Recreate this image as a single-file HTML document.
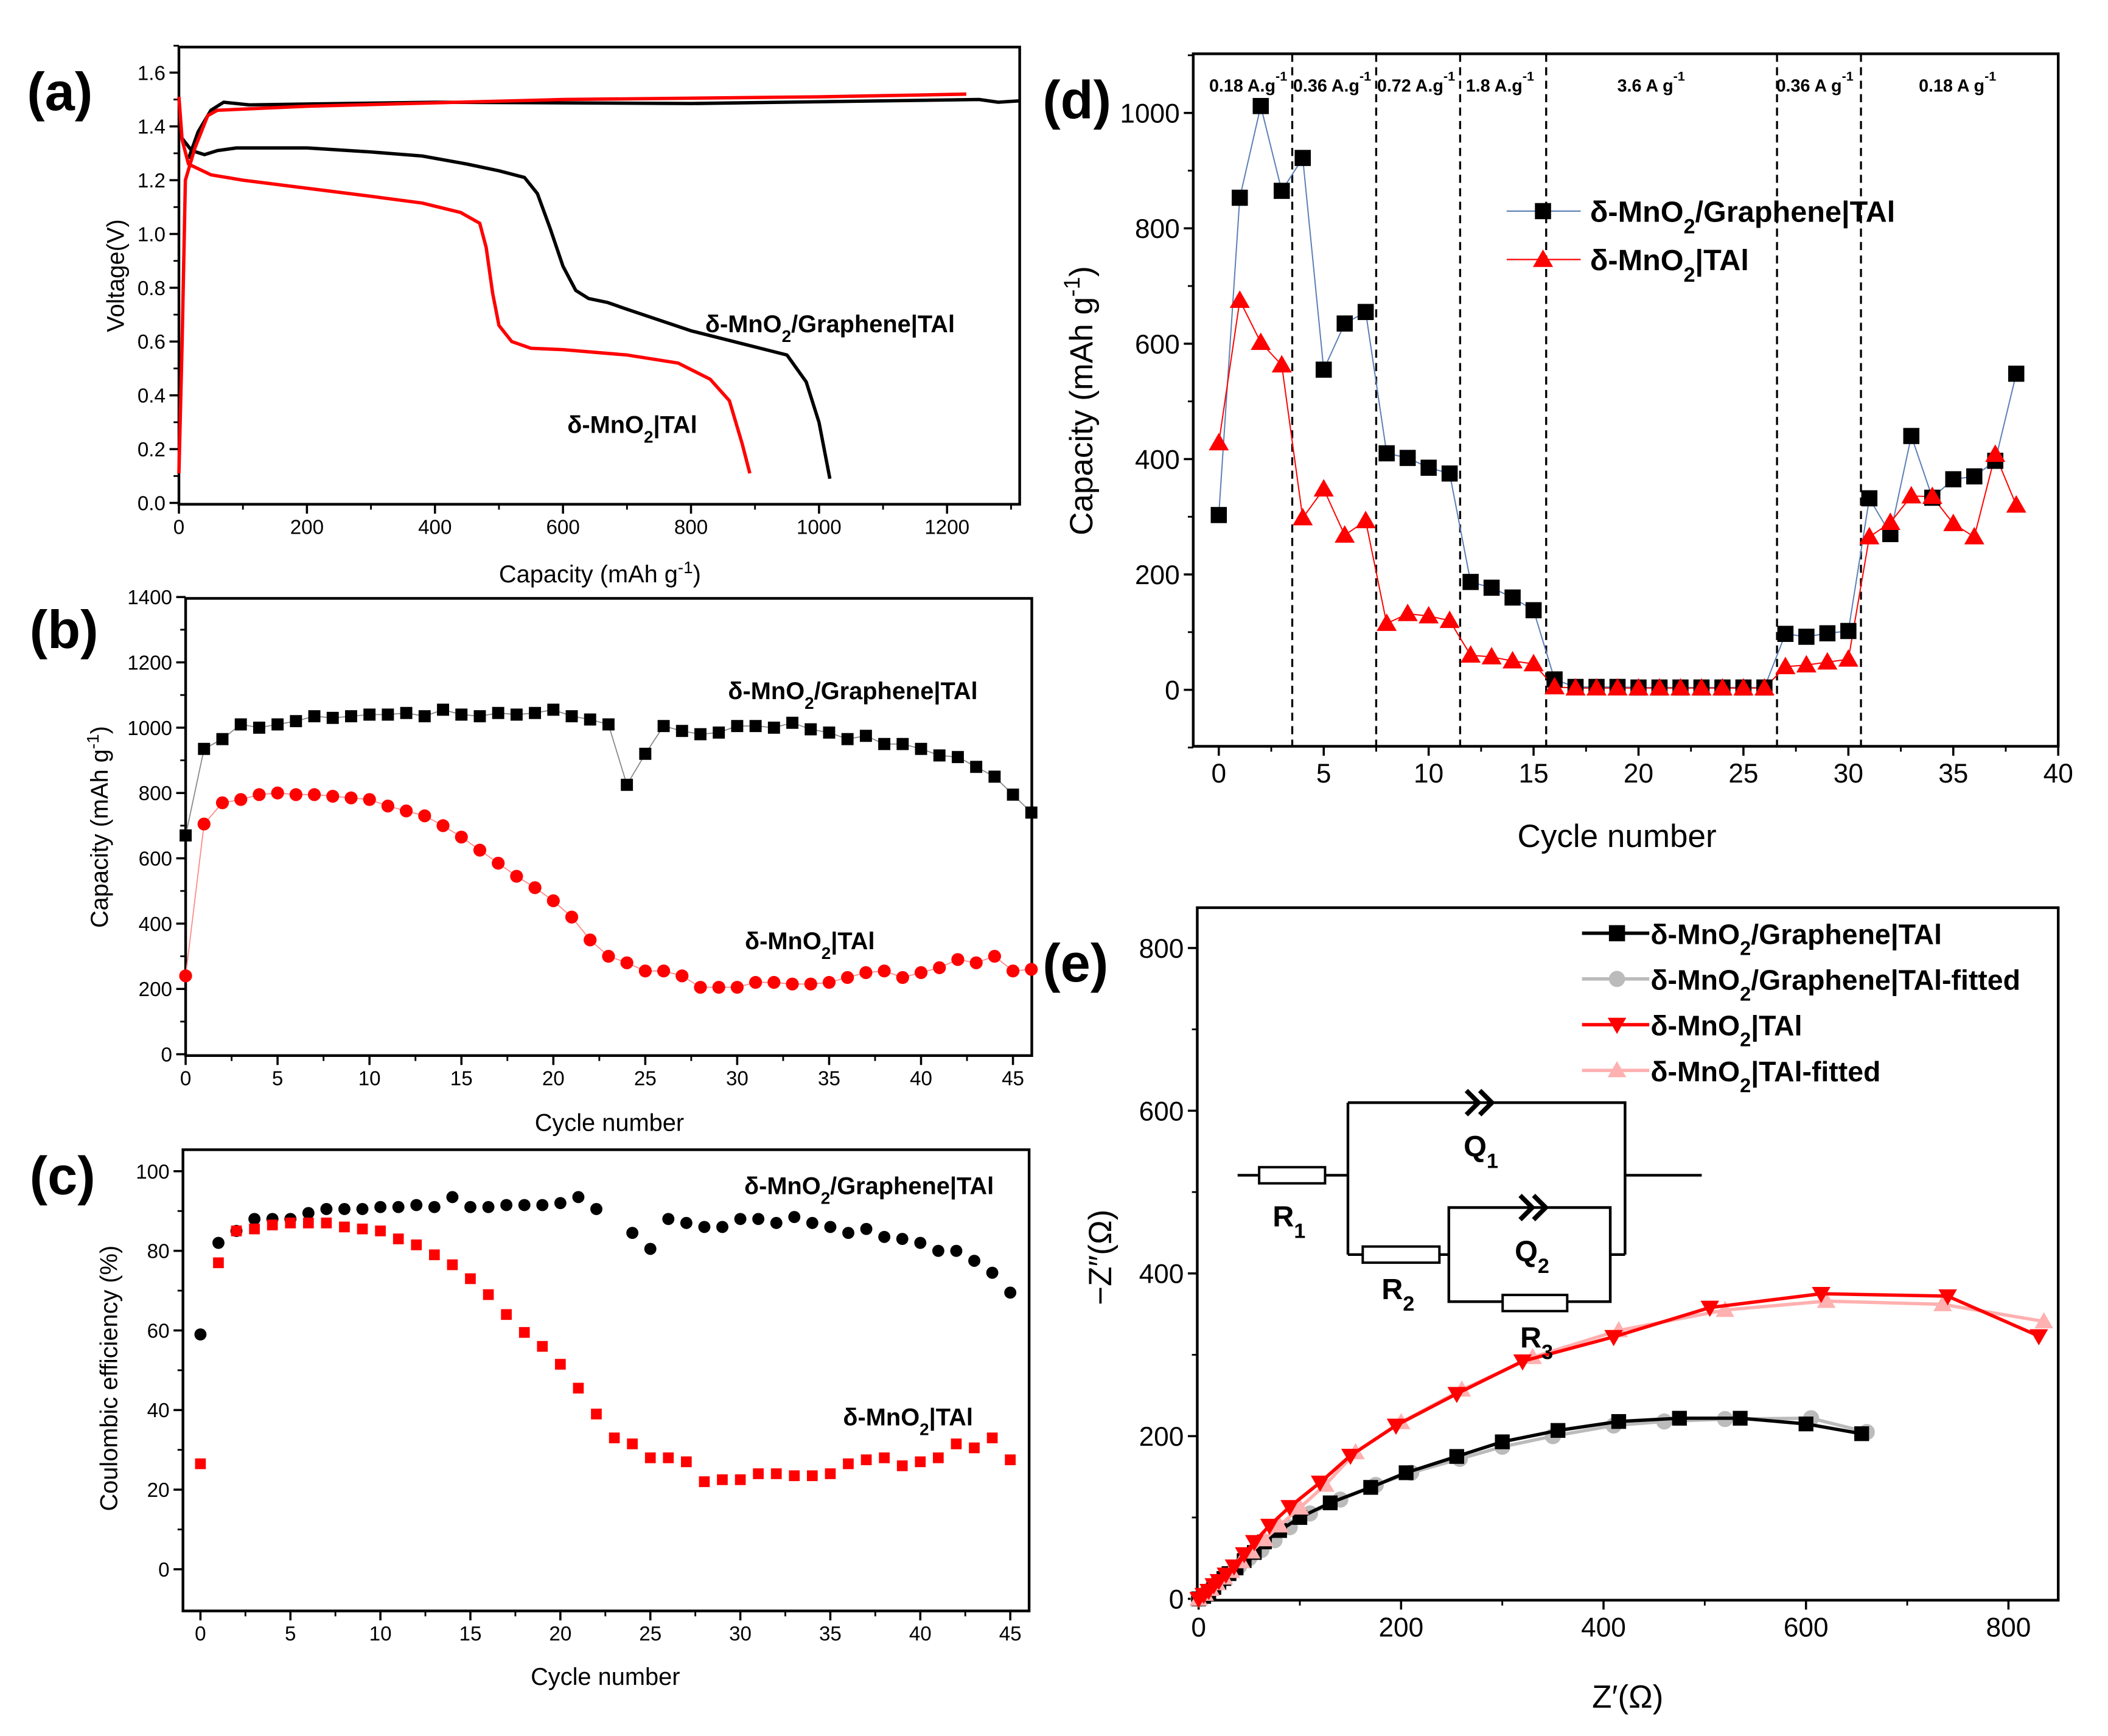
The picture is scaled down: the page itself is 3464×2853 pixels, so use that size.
<!DOCTYPE html>
<html><head><meta charset="utf-8">
<style>
html,body{margin:0;padding:0;background:#fff;}
svg{display:block;}
text{font-family:"Liberation Sans",sans-serif;}
.n{font-family:"Liberation Sans Narrow","Liberation Sans",sans-serif;}
</style></head>
<body>
<svg id="fig" xmlns="http://www.w3.org/2000/svg" width="3464" height="2853" viewBox="0 0 1567 1291" preserveAspectRatio="none">
<rect x="0" y="0" width="1567" height="1291" fill="#fff"/>
</svg>
<script>
// ---------- data ----------
const aBlackDisCap=[0,20,40,60,90,200,300,380,450,500,540,560,580,600,620,640,670,700,800,900,950,980,1000,1017];
const aBlackDisV=[1.37,1.31,1.295,1.31,1.32,1.32,1.305,1.29,1.26,1.235,1.21,1.15,1.02,0.88,0.79,0.76,0.745,0.72,0.64,0.58,0.55,0.45,0.30,0.09];
const aBlackChCap=[15,30,50,70,110,400,800,1100,1250,1280,1313];
const aBlackChV=[1.28,1.38,1.46,1.49,1.48,1.49,1.485,1.495,1.5,1.49,1.495];
const aRedDisCap=[0,5,15,50,100,200,300,380,440,470,480,490,500,520,550,600,700,780,830,860,880,892];
const aRedDisV=[1.51,1.35,1.26,1.22,1.20,1.17,1.14,1.115,1.08,1.04,0.95,0.78,0.66,0.60,0.575,0.57,0.55,0.52,0.46,0.38,0.22,0.11];
const aRedChCap=[0,5,10,25,45,60,200,600,1000,1230];
const aRedChV=[0.11,0.6,1.2,1.32,1.44,1.46,1.475,1.5,1.51,1.52];

const bBlack=[670,935,965,1010,1000,1010,1020,1035,1030,1035,1040,1040,1045,1035,1055,1040,1035,1045,1040,1045,1055,1035,1025,1010,825,920,1005,990,980,985,1005,1005,1000,1015,995,985,965,975,950,950,935,915,910,880,850,795,740];
const bRed=[240,705,770,780,795,800,795,795,790,785,780,760,745,730,700,665,625,585,545,510,470,420,350,300,280,255,255,240,205,205,205,220,220,215,215,220,235,250,255,235,250,265,290,280,300,255,260];

const cBlack=[59,82,85,88,88,88,89.5,90.5,90.5,90.5,91,91,91.5,91,93.5,91,91,91.5,91.5,91.5,92,93.5,90.5,null,84.5,80.5,88,87,86,86,88,88,87,88.5,87,86,84.5,85.5,83.5,83,82,80,80,77.5,74.5,69.5];
const cRed=[26.5,77,85,85.5,86.5,87,87,87,86,85.5,85,83,81.5,79,76.5,73,69,64,59.5,56,51.5,45.5,39,33,31.5,28,28,27,22,22.5,22.5,24,24,23.5,23.5,24,26.5,27.5,28,26,27,28,31.5,30.5,33,27.5];

const dBlack=[303,853,1012,865,922,555,635,655,410,402,385,375,187,177,160,138,18,5,5,5,4,4,4,4,4,4,4,97,92,98,102,332,270,440,333,365,370,397,548];
const dRed=[428,675,602,563,298,348,268,293,115,132,128,120,60,57,50,45,5,3,3,3,3,3,3,3,3,3,3,40,43,48,53,265,290,336,335,288,265,408,320];
const dDividers=[3.5,7.5,11.5,15.6,26.6,30.6];
const dRateLabels=["0.18 A.g","0.36 A.g","0.72 A.g","1.8 A.g","3.6 A g","0.36 A g","0.18 A g"];
const dRateX=[1.4,5.4,9.4,13.4,20.6,28.4,35.2];

const eBlackRe=[0,5,10,15,20,25,30,37,45,55,65,80,100,130,170,205,255,300,355,415,475,535,600,655];
const eBlackIm=[0,3,8,14,20,25,31,38,47,57,70,84,100,118,137,155,175,193,207,218,222,222,215,203];
const eGrayRe=[0,6,12,18,25,32,40,50,62,75,90,110,140,175,210,258,300,350,410,460,520,605,660];
const eGrayIm=[0,6,12,18,25,32,40,50,60,72,88,105,122,140,155,172,187,200,213,218,221,222,205];
const eRedRe=[0,5,10,15,20,27,35,45,55,70,90,120,150,195,255,320,410,505,615,740,830];
const eRedIm=[0,5,10,17,22,30,40,55,70,90,113,143,176,213,252,292,322,358,375,372,323];
const ePinkRe=[0,6,12,18,25,32,42,52,65,80,100,125,155,200,260,330,415,520,620,735,835];
const ePinkIm=[0,6,12,19,26,34,46,58,73,90,112,140,180,217,257,297,330,355,366,362,341];

// ---------- helpers ----------
const NS="http://www.w3.org/2000/svg";
const fig=document.getElementById('fig');
function el(tag,attrs,parent){const e=document.createElementNS(NS,tag);for(const k in attrs)e.setAttribute(k,attrs[k]);(parent||fig).appendChild(e);return e;}
function txt(s,x,y,size,opt,parent){opt=opt||{};const t=el('text',{x:x,y:y,'font-size':size,'text-anchor':opt.anchor||'middle',fill:opt.fill||'#000','font-weight':opt.bold?'bold':'normal'},parent);if(opt.cls)t.setAttribute('class',opt.cls);if(opt.rot)t.setAttribute('transform','rotate(-90 '+x+' '+y+')');t.innerHTML=s;return t;}
function lin(x0,x1,p0,p1){return v=>p0+(v-x0)*(p1-p0)/(x1-x0);}
function group(name){const g=el('g',{});return g;}
function axes(g,box,sx,sy,xt,xm,yt,ym,fs,cls,yfmt){
  const r=el('rect',{x:box[0],y:box[1],width:box[2]-box[0],height:box[3]-box[1],fill:'none',stroke:'#000','stroke-width':2},g);
  
  xt.forEach(v=>{const x=sx(v);el('line',{x1:x,x2:x,y1:box[3],y2:box[3]+7,stroke:'#000','stroke-width':1.6},g);
    const t=txt(String(v),x,box[3]+7+fs,fs,{cls:cls},g);});
  xm.forEach(v=>{const x=sx(v);el('line',{x1:x,x2:x,y1:box[3],y2:box[3]+4,stroke:'#000','stroke-width':1.3},g);});
  yt.forEach(v=>{const y=sy(v);el('line',{x1:box[0]-7,x2:box[0],y1:y,y2:y,stroke:'#000','stroke-width':1.6},g);
    const t=txt(yfmt?yfmt(v):String(v),box[0]-10,y+fs*0.36,fs,{anchor:'end',cls:cls},g);});
  ym.forEach(v=>{const y=sy(v);el('line',{x1:box[0]-4,x2:box[0],y1:y,y2:y,stroke:'#000','stroke-width':1.3},g);});
}
function range(a,b,s){const r=[];for(let v=a;v<=b+1e-9;v+=s)r.push(+v.toFixed(4));return r;}
function poly(g,xs,ys,sx,sy,color,w,name){let d='';xs.forEach((x,i)=>{if(ys[i]==null)return;d+=(d?'L':'M')+sx(x).toFixed(1)+','+sy(ys[i]).toFixed(1);});
  const p=el('path',{d:d,fill:'none',stroke:color,'stroke-width':w,'stroke-linejoin':'round'},g);return p;}
function marker(g,type,x,y,s,color,name){let m;
  if(type==='sq')m=el('rect',{x:x-s,y:y-s,width:2*s,height:2*s,fill:color},g);
  else if(type==='ci')m=el('circle',{cx:x,cy:y,r:s,fill:color},g);
  else if(type==='tu')m=el('polygon',{points:`${x},${y-s*1.15} ${x-s*1.15},${y+s*0.85} ${x+s*1.15},${y+s*0.85}`,fill:color},g);
  else m=el('polygon',{points:`${x},${y+s*1.15} ${x-s*1.15},${y-s*0.85} ${x+s*1.15},${y-s*0.85}`,fill:color},g);
  return m;}
const LG='δ-MnO<tspan baseline-shift="sub" font-size="70%">2</tspan>/Graphene|TAl';
const LR='δ-MnO<tspan baseline-shift="sub" font-size="70%">2</tspan>|TAl';

// ---------- panel (a) ----------
(function(){
  const g=group('panel-a');
  const box=[133,35,758,375];
  const sx=lin(0,1200,133,704), sy=lin(0,1.6,374,54);
  axes(g,box,sx,sy,range(0,1200,200),range(100,1300,200),range(0,1.6,0.2),range(0.1,1.7,0.2),15,'n',v=>v.toFixed(1));
  poly(g,aBlackChCap,aBlackChV,sx,sy,'#000',2.5,'black-charge-curve');
  poly(g,aBlackDisCap,aBlackDisV,sx,sy,'#000',2.5,'black-discharge-curve');
  poly(g,aRedChCap,aRedChV,sx,sy,'#f00',2.5,'red-charge-curve');
  poly(g,aRedDisCap,aRedDisV,sx,sy,'#f00',2.5,'red-discharge-curve');
  let t=txt('(a)',20,82,40,{anchor:'start',bold:true},g);
  t=txt('Voltage(V)',92,205,18,{rot:true},g);
  t=txt('Capacity (mAh g<tspan baseline-shift="super" font-size="70%">-1</tspan>)',446,433,18,{},g);
  t=txt(LG,617,247,18,{bold:true,cls:'n'},g);
  t=txt(LR,470,322,18,{bold:true,cls:'n'},g);
})();

// ---------- panel (b) ----------
(function(){
  const g=group('panel-b');
  const box=[138,445,767,785];
  const sx=lin(0,45,138,753), sy=lin(0,1400,784,444);
  axes(g,box,sx,sy,range(0,45,5),range(2.5,45,5),range(0,1400,200),range(100,1300,200),15,'n');
  const idx=bBlack.map((v,i)=>i);
  poly(g,idx,bBlack,sx,sy,'#888',0.8,'black-connector');
  poly(g,idx,bRed,sx,sy,'#f88',0.8,'red-connector');
  bBlack.forEach((v,i)=>{if(sx(i)<=767)marker(g,'sq',sx(i),sy(v),4.5,'#000','capacity-point-graphene');});
  bRed.forEach((v,i)=>{if(sx(i)<=767)marker(g,'ci',sx(i),sy(v),4.8,'#f00','capacity-point-mno2');});
  let t=txt('(b)',22,482,40,{anchor:'start',bold:true},g);
  t=txt('Capacity (mAh g<tspan baseline-shift="super" font-size="70%">-1</tspan>)',80,615,18,{rot:true},g);
  t=txt('Cycle number',453,841,18,{},g);
  t=txt(LG,634,520,18,{bold:true,cls:'n'},g);
  t=txt(LR,602,706,18,{bold:true,cls:'n'},g);
})();

// ---------- panel (c) ----------
(function(){
  const g=group('panel-c');
  const box=[136,855,765,1198];
  const sx=lin(0,45,149,751), sy=lin(0,100,1167,871);
  axes(g,box,sx,sy,range(0,45,5),range(2.5,45,5),range(0,100,20),range(10,100,20),15,'n');
  cBlack.forEach((v,i)=>{if(v!=null)marker(g,'ci',sx(i),sy(v),4.5,'#000','efficiency-point-graphene');});
  cRed.forEach((v,i)=>{marker(g,'sq',sx(i),sy(v),4,'#f00','efficiency-point-mno2');});
  let t=txt('(c)',22,888,40,{anchor:'start',bold:true},g);
  t=txt('Coulombic efficiency (%)',87,1025,18,{rot:true},g);
  t=txt('Cycle number',450,1253,18,{},g);
  t=txt(LG,646,888,18,{bold:true,cls:'n'},g);
  t=txt(LR,675,1060,18,{bold:true,cls:'n'},g);
})();

// ---------- panel (d) ----------
(function(){
  const g=group('panel-d');
  const box=[887,40,1530,555];
  const sx=lin(0,40,906,1530), sy=lin(0,1000,513,84);
  axes(g,box,sx,sy,range(0,40,5),range(2.5,40,5),range(0,1000,200),range(-100,1100,200),20,'');
  dDividers.forEach(v=>{const l=el('line',{x1:sx(v),x2:sx(v),y1:40,y2:555,stroke:'#000','stroke-width':1.5,'stroke-dasharray':'6,4'},g);});
  dRateLabels.forEach((s,i)=>{const t=txt(s+'<tspan dy="-8" font-size="75%">-1</tspan>',sx(dRateX[i]),68,13,{bold:true,cls:'n'},g);});
  const idx=dBlack.map((v,i)=>i);
  poly(g,idx,dBlack,sx,sy,'#5b7fb5',0.9,'graphene-connector');
  poly(g,idx,dRed,sx,sy,'#f00',0.9,'mno2-connector');
  dBlack.forEach((v,i)=>marker(g,'sq',sx(i),sy(v),6,'#000','rate-point-graphene'));
  dRed.forEach((v,i)=>marker(g,'tu',sx(i),sy(v),6.5,'#f00','rate-point-mno2'));
  const lg=group('legend-d');g.appendChild(lg);
  el('line',{x1:1120,x2:1175,y1:157,y2:157,stroke:'#5b7fb5','stroke-width':1},lg);
  marker(lg,'sq',1147,157,6,'#000','legend-marker-graphene');
  el('line',{x1:1120,x2:1175,y1:193,y2:193,stroke:'#f00','stroke-width':1},lg);
  marker(lg,'tu',1147,193,6.5,'#f00','legend-marker-mno2');
  let t=txt(LG,1182,165,22,{anchor:'start',bold:true},lg);
  t=txt(LR,1182,201,22,{anchor:'start',bold:true},lg);
  t=txt('(d)',775,88,40,{anchor:'start',bold:true},g);
  t=txt('Capacity (mAh g<tspan baseline-shift="super" font-size="70%">-1</tspan>)',812,298,24,{rot:true},g);
  t=txt('Cycle number',1202,630,24,{},g);
})();

// ---------- panel (e) ----------
(function(){
  const g=group('panel-e');
  const box=[890,675,1530,1190];
  const sx=lin(0,800,891,1493), sy=lin(0,800,1189,705);
  axes(g,box,sx,sy,range(0,800,200),range(100,900,200),range(0,800,200),range(100,800,200),20,'');
  poly(g,eGrayRe,eGrayIm,sx,sy,'#bbb',2.5,'graphene-fitted-line');
  eGrayRe.forEach((v,i)=>marker(g,'ci',sx(v),sy(eGrayIm[i]),6,'#bbb','fitted-point-graphene'));
  poly(g,eBlackRe,eBlackIm,sx,sy,'#000',2.5,'graphene-eis-line');
  eBlackRe.forEach((v,i)=>marker(g,'sq',sx(v),sy(eBlackIm[i]),5.5,'#000','eis-point-graphene'));
  poly(g,ePinkRe,ePinkIm,sx,sy,'#ffb0b0',2.5,'mno2-fitted-line');
  ePinkRe.forEach((v,i)=>marker(g,'tu',sx(v),sy(ePinkIm[i]),6,'#ffb0b0','fitted-point-mno2'));
  poly(g,eRedRe,eRedIm,sx,sy,'#f00',2.5,'mno2-eis-line');
  eRedRe.forEach((v,i)=>marker(g,'td',sx(v),sy(eRedIm[i]),6,'#f00','eis-point-mno2'));
  const lg=group('legend-e');g.appendChild(lg);
  const items=[['#000','sq',LG],['#bbb','ci',LG+'-fitted'],['#f00','td',LR],['#ffb0b0','tu',LR+'-fitted']];
  items.forEach((it,i)=>{const y=694+i*34;el('line',{x1:1176,x2:1226,y1:y,y2:y,stroke:it[0],'stroke-width':2.5},lg);
    marker(lg,it[1],1202,y,6,it[0],'legend-marker');
    const t=txt(it[2],1227,y+8,21,{anchor:'start',bold:true},lg);});
  const cg=group('equivalent-circuit');g.appendChild(cg);
  const S={stroke:'#000','stroke-width':2,fill:'none'};
  el('path',Object.assign({d:'M920,874H936M985,874H1002M1002,820V933M1002,820H1208V933M1208,874H1265M1002,933H1013M1070,933H1077M1077,898H1197V968H1077ZM1197,933H1208'},S),cg);
  el('rect',{x:936,y:868,width:49,height:12,fill:'#fff',stroke:'#000','stroke-width':1.8},cg);
  el('rect',{x:1013,y:927,width:57,height:12,fill:'#fff',stroke:'#000','stroke-width':1.8},cg);
  el('rect',{x:1117,y:963,width:48,height:12,fill:'#fff',stroke:'#000','stroke-width':1.8},cg);
  el('path',{d:'M1090,811L1099,820L1090,829M1100,811L1109,820L1100,829',stroke:'#000','stroke-width':3.5,fill:'none'},cg);
  el('path',{d:'M1130,889L1139,898L1130,907M1140,889L1149,898L1140,907',stroke:'#000','stroke-width':3.5,fill:'none'},cg);
  [['Q','1',1088,860],['R','1',946,912],['Q','2',1126,938],['R','2',1027,966],['R','3',1130,1002]].forEach(c=>{
    const t=txt(c[0]+'<tspan baseline-shift="sub" font-size="70%">'+c[1]+'</tspan>',c[2],c[3],22,{anchor:'start',bold:true},cg);});
  let t=txt('(e)',775,730,40,{anchor:'start',bold:true},g);
  t=txt('−Z″(Ω)',826,935,24,{rot:true},g);
  t=txt('Z′(Ω)',1210,1270,24,{},g);
})();
</script>
</body></html>
